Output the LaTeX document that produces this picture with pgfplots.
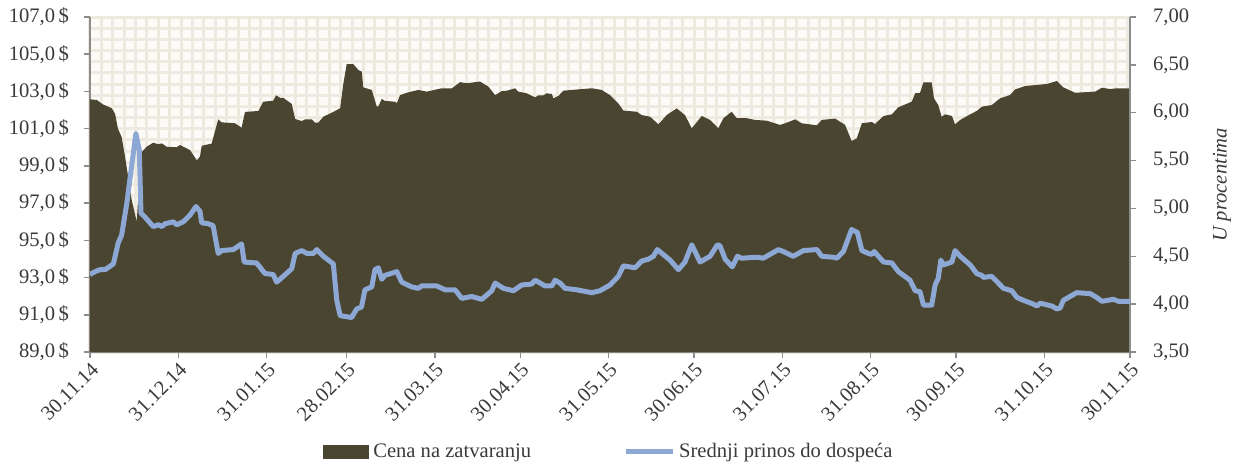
\documentclass[border=0pt]{standalone}
\usepackage{pgfplots}
\usepackage{pgfplotstable}
\pgfplotsset{compat=1.18}
\usepackage{fontspec}
\setmainfont{Liberation Serif}

\definecolor{cena}{HTML}{4A4530}
\definecolor{prinos}{HTML}{8DA8D4}
\definecolor{mreza}{HTML}{EEEAE0}
\definecolor{podloga}{HTML}{FCFBF7}
\definecolor{osa}{HTML}{8C8C8C}
\definecolor{tekst}{HTML}{3A3A3A}

% dani od 30.11.14, cena na zatvaranju
\pgfplotstableread{
d p
0 102.58
2.4 102.54
4.6 102.30
7.6 102.10
8.8 101.80
9.8 101.00
11.1 100.55
12.3 99.50
13.3 98.50
14.6 97.20
16.4 96.00
17.9 99.70
19.9 100.03
22.2 100.25
24.0 100.16
25.2 100.21
26.9 100.03
30.4 100.00
31.6 100.12
32.7 100.03
35.1 99.85
37.5 99.30
38.6 99.50
39.2 100.08
42.7 100.20
45.0 101.50
46.2 101.34
50.9 101.29
53.2 101.05
54.4 101.90
59.1 101.95
60.8 102.45
64.3 102.50
65.3 102.79
66.7 102.66
67.8 102.66
70.8 102.33
72.0 101.52
74.3 101.41
75.5 101.50
77.8 101.50
79.0 101.32
80.1 101.32
81.9 101.64
85.4 101.90
87.8 102.10
88.9 103.40
90.1 104.47
92.4 104.47
94.2 104.15
95.4 104.06
95.9 103.22
98.9 103.08
100.6 102.20
101.2 102.20
102.4 102.60
103.5 102.49
107.1 102.45
107.7 102.36
108.8 102.80
111.2 102.93
115.2 103.08
118.2 102.99
123.4 103.17
127.0 103.17
129.9 103.50
132.2 103.44
136.9 103.53
139.8 103.26
142.2 102.80
144.5 103.02
146.3 103.04
149.2 103.17
150.3 102.99
153.3 102.90
156.2 102.68
157.4 102.79
159.1 102.79
160.3 102.90
162.1 102.86
162.6 102.63
164.4 102.76
166.1 103.04
172.0 103.12
176.1 103.17
179.6 103.08
182.5 102.80
185.4 102.36
187.2 101.97
191.9 101.91
193.6 101.73
196.6 101.64
199.5 101.23
202.4 101.73
205.9 102.09
208.8 101.73
211.2 101.02
214.7 101.68
217.6 101.47
220.5 101.02
222.3 101.56
225.2 101.91
227.0 101.56
230.5 101.56
233.4 101.47
237.5 101.43
242.2 101.20
244.5 101.32
247.5 101.50
249.8 101.29
255.1 101.18
256.8 101.47
261.5 101.54
263.8 101.32
265.0 101.20
267.3 100.34
269.1 100.48
270.9 101.29
274.4 101.36
275.5 101.25
278.5 101.68
281.4 101.77
283.7 102.15
288.4 102.45
289.6 102.90
291.3 102.93
292.5 103.49
295.4 103.49
296.2 102.63
297.7 102.27
298.9 101.64
300.1 101.77
302.5 101.68
303.6 101.23
305.4 101.47
308.9 101.77
311.2 101.95
313.0 102.18
316.5 102.27
319.4 102.63
322.9 102.81
324.7 103.11
328.2 103.29
332.3 103.35
335.8 103.40
339.3 103.56
341.6 103.22
345.7 102.93
350.4 102.97
352.8 102.99
355.1 103.20
358.0 103.13
360.4 103.17
365 103.17
}\cenatab

% srednji prinos do dospeca, u procentima
\pgfplotstableread{
d y
0 4.31
1.8 4.34
3.5 4.36
5.3 4.36
8.2 4.42
9.9 4.64
11.1 4.72
12.9 5.05
14.6 5.44
16.1 5.78
17.3 5.61
17.9 4.95
19.3 4.91
22.2 4.81
24.0 4.83
25.2 4.81
26.3 4.84
29.2 4.86
30.4 4.83
32.7 4.86
35.1 4.93
37.2 5.02
38.6 4.97
39.2 4.85
41.5 4.84
43.2 4.82
45.0 4.53
46.2 4.56
50.3 4.57
53.2 4.63
54.1 4.44
58.5 4.43
61.4 4.32
64.3 4.31
65.5 4.23
66.7 4.26
67.8 4.29
70.8 4.37
72.0 4.53
74.3 4.56
76.1 4.53
78.4 4.53
79.6 4.57
81.9 4.50
85.4 4.42
86.6 4.04
87.8 3.88
91.8 3.86
93.6 3.95
95.3 3.97
96.5 4.15
98.9 4.18
100.0 4.36
101.2 4.38
102.4 4.26
103.5 4.30
107.7 4.34
109.4 4.23
112.9 4.18
115.2 4.165
116.4 4.19
121.7 4.19
124.6 4.15
128.1 4.15
130.5 4.06
134.0 4.08
137.5 4.05
141.0 4.14
142.2 4.22
145.1 4.165
148.6 4.14
151.5 4.20
155.0 4.21
156.2 4.25
158.0 4.22
159.7 4.19
162.1 4.19
163.2 4.25
165.0 4.22
166.7 4.165
170.8 4.15
176.1 4.12
179.0 4.14
182.5 4.20
185.4 4.29
187.2 4.40
191.3 4.38
193.6 4.45
196.0 4.47
197.7 4.50
199.1 4.57
203.6 4.46
206.5 4.36
208.8 4.44
211.2 4.62
214.1 4.44
217.6 4.50
220.2 4.62
221.1 4.61
222.9 4.47
225.4 4.39
227.2 4.50
228.7 4.48
234.0 4.49
236.3 4.48
241.6 4.57
243.3 4.55
246.8 4.50
250.4 4.56
255.1 4.57
256.8 4.50
260.9 4.49
262.1 4.48
264.4 4.55
267.3 4.78
269.3 4.75
270.9 4.56
273.2 4.53
274.4 4.52
275.2 4.55
278.5 4.44
281.4 4.43
283.7 4.34
287.8 4.25
289.6 4.14
291.3 4.13
292.5 3.99
295.4 3.99
296.6 4.20
297.7 4.27
298.6 4.46
299.5 4.41
302.5 4.44
303.6 4.56
305.4 4.50
308.9 4.41
311.2 4.32
313.0 4.30
313.5 4.28
316.5 4.29
320.6 4.165
323.5 4.14
325.3 4.07
327.6 4.04
331.1 4.00
332.3 3.98
333.5 4.01
337.6 3.98
339.3 3.95
340.5 3.96
341.6 4.04
346.3 4.12
351.0 4.11
353.3 4.07
355.1 4.03
359.2 4.05
360.9 4.03
365 4.03
}\prinostab

\pgfplotsset{
  zajedno/.style={
    width=520pt, height=167.5pt, scale only axis,
    at={(0,0)}, anchor=south west,
    xmin=0, xmax=365,
    font=\fontsize{10.3}{12.3}\selectfont,
    every tick label/.append style={text=tekst},
    /pgf/number format/assume math mode=true,
    tick align=outside, major tick length=3pt,
    tick style={osa, line width=0.75pt},
    axis line style={osa, line width=0.75pt},
  }
}

\begin{document}
\begin{tikzpicture}
\begin{axis}[
  zajedno,
  ymin=89, ymax=107,
  axis y line*=left, axis x line*=bottom,
  xtick={0,31,62,90,121,151,182,212,243,274,304,335,365},
  xticklabels={30.11.14,31.12.14,31.01.15,28.02.15,31.03.15,30.04.15,31.05.15,
    30.06.15,31.07.15,31.08.15,30.09.15,31.10.15,30.11.15},
  xticklabel style={rotate=45, anchor=north east, inner sep=1pt},
  ytick={89,91,...,107},
  yticklabel={\pgfmathprintnumber[fixed,fixed zerofill,precision=1,use comma]{\tick}\,\$},
  yticklabel style={xshift=-4pt},
  minor xtick={0,4,...,364},
  minor ytick={89,89.6,...,106.9},
  minor tick length=0pt,
  grid=minor,
  minor grid style={mreza, line width=1.5pt},
  axis background/.style={fill=podloga},
]
\addplot[fill=cena, draw=none] table[x=d, y=p] {\cenatab} \closedcycle;
\end{axis}

\begin{axis}[
  zajedno,
  ymin=3.5, ymax=7,
  axis y line*=right, axis x line=none,
  ytick={3.5,4,...,7},
  yticklabel={\pgfmathprintnumber[fixed,fixed zerofill,precision=2,use comma]{\tick}},
  yticklabel style={xshift=5pt},
  ylabel={\itshape U procentima},
  ylabel style={text=tekst, yshift=-5pt},
  legend style={at={(0.5,-0.2985)}, anchor=center, draw=none, fill=none,
    legend columns=2, text=tekst,
    /tikz/every even column/.append style={column sep=44pt}},
]
\addlegendimage{legend image code/.code={\fill[cena] (0pt,-3.15pt) rectangle (22.5pt,3.15pt);}}
\addlegendentry{Cena na zatvaranju}
\addplot[prinos, line width=2.5pt, line join=round,
  legend image code/.code={\draw[prinos, line width=2.5pt] (0pt,0pt) -- (23.5pt,0pt);}]
  table[x=d, y=y] {\prinostab};
\addlegendentry{Srednji prinos do dospeća}
\end{axis}
\pgfresetboundingbox
\path (-45pt,-57pt) rectangle (572.5pt,176pt);
\end{tikzpicture}
\end{document}
